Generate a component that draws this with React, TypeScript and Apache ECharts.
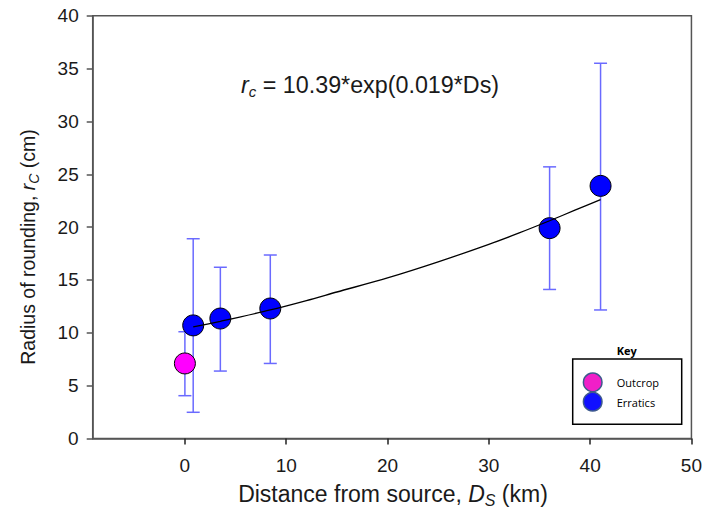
import React, { useEffect, useRef } from "react";
import * as echarts from "echarts";

// Data
const outcropX = [0];
const outcropY = [7.1];
const outcropLow = [4.05];
const outcropHigh = [10.1];

const erraticsX = [0.82, 3.5, 8.43, 36.0, 41.03];
const erraticsY = [10.7, 11.35, 12.3, 19.9, 23.9];
const erraticsLow = [2.48, 6.38, 7.1, 14.1, 12.16];
const erraticsHigh = [18.9, 16.2, 17.36, 25.7, 35.5];

// fitted curve, points
const fitX = [0.82, 3.5, 8.43, 12, 15, 20, 25, 30, 33, 36, 38.5, 41.03];
const fitY = [10.55, 11.09, 12.16, 13.05, 13.86, 15.19, 16.71, 18.37, 19.45, 20.6, 21.6, 22.6];

const xTicks = [0, 10, 20, 30, 40, 50];
const yTicks = [0, 5, 10, 15, 20, 25, 30, 35, 40];

const FONT = "Liberation Sans, Arial, sans-serif";

export default function App() {
  const ref = useRef<HTMLDivElement>(null);
  useEffect(() => {
    if (!ref.current) return;
    const chart = echarts.init(ref.current, null, { renderer: "svg" });

    const errData = [
      ...outcropX.map((x, i) => [x, outcropLow[i], outcropHigh[i]]),
      ...erraticsX.map((x, i) => [x, erraticsLow[i], erraticsHigh[i]]),
    ];

    const axisColor = "#555";

    chart.setOption({
      animation: false,
      backgroundColor: "#fff",
      grid: {
        left: 92.7,
        right: 11.3,
        top: 15.7,
        bottom: 83.5,
        show: true,
        borderColor: axisColor,
        borderWidth: 1.5,
        containLabel: false,
      },
      xAxis: {
        type: "value",
        min: -9.1,
        max: 50,
        splitLine: { show: false },
        axisLine: { show: true, onZero: false, lineStyle: { color: axisColor, width: 1.5 } },
        axisTick: {
          show: true,
          inside: false,
          length: 6,
          customValues: xTicks,
          lineStyle: { color: "#222", width: 1.5 },
        },
        axisLabel: {
          customValues: xTicks,
          margin: 17,
          fontSize: 19,
          color: "#1a1a1a",
          fontFamily: FONT,
        },
      },
      yAxis: {
        type: "value",
        min: 0,
        max: 40,
        interval: 5,
        splitLine: { show: false },
        axisLine: { show: true, onZero: false, lineStyle: { color: axisColor, width: 1.5 } },
        axisTick: { show: true, inside: false, length: 6, lineStyle: { color: axisColor, width: 1.5 } },
        axisLabel: {
          margin: 14,
          fontSize: 19,
          color: "#1a1a1a",
          fontFamily: FONT,
          formatter: (v: number) => (yTicks.includes(v) ? String(v) : ""),
        },
      },
      series: [
        {
          type: "custom",
          name: "errors",
          data: errData,
          z: 1,
          renderItem: (params: any, api: any) => {
            const x = api.value(0);
            const lo = api.coord([x, api.value(1)]);
            const hi = api.coord([x, api.value(2)]);
            const hw = 6.5;
            const style = { stroke: "#6a6aff", lineWidth: 1.5, fill: "none" };
            return {
              type: "group",
              children: [
                { type: "line", shape: { x1: lo[0], y1: lo[1], x2: hi[0], y2: hi[1] }, style },
                { type: "line", shape: { x1: lo[0] - hw, y1: lo[1], x2: lo[0] + hw, y2: lo[1] }, style },
                { type: "line", shape: { x1: hi[0] - hw, y1: hi[1], x2: hi[0] + hw, y2: hi[1] }, style },
              ],
            };
          },
        },
        {
          type: "scatter",
          name: "Outcrop",
          z: 2,
          symbol: "circle",
          symbolSize: 21,
          itemStyle: { color: "#ff00ff", borderColor: "#000", borderWidth: 1, opacity: 1 },
          data: outcropX.map((x, i) => [x, outcropY[i]]),
        },
        {
          type: "scatter",
          name: "Erratics",
          z: 2,
          symbol: "circle",
          symbolSize: 21,
          itemStyle: { color: "#0000ff", borderColor: "#000", borderWidth: 1, opacity: 1 },
          data: erraticsX.map((x, i) => [x, erraticsY[i]]),
        },
        {
          type: "line",
          name: "fit",
          z: 3,
          smooth: 0.3,
          showSymbol: false,
          symbol: "none",
          lineStyle: { color: "#000", width: 1.3 },
          data: fitX.map((x, i) => [x, fitY[i]]),
        },
      ],
      graphic: [
        {
          type: "text",
          left: 241,
          top: 73,
          style: {
            text: "{i|r}{sub|c} = 10.39*exp(0.019*Ds)",
            fontSize: 23.3,
            fontFamily: FONT,
            fill: "#1a1a1a",
            rich: {
              i: { fontStyle: "italic", fontSize: 23.3, fontFamily: FONT, fill: "#1a1a1a" },
              sub: { fontStyle: "italic", fontSize: 15, fontFamily: FONT, fill: "#1a1a1a", padding: [13, 0, 0, 0] },
            },
          },
        },
        {
          type: "text",
          x: 393,
          y: 494,
          style: {
            text: "Distance from source, {i|D}{sub|S} (km)",
            fontSize: 23,
            fontFamily: FONT,
            fill: "#1a1a1a",
            align: "center",
            verticalAlign: "middle",
            rich: {
              i: { fontStyle: "italic", fontSize: 23, fontFamily: FONT, fill: "#1a1a1a" },
              sub: { fontStyle: "italic", fontSize: 16, fontFamily: FONT, fill: "#1a1a1a", padding: [13, 0, 0, 0] },
            },
          },
        },
        {
          type: "text",
          x: 28,
          y: 247,
          rotation: Math.PI / 2,
          style: {
            text: "Radius of rounding, {i|r}{sub|C} (cm)",
            fontSize: 19.5,
            fontFamily: FONT,
            fill: "#1a1a1a",
            align: "center",
            verticalAlign: "middle",
            rich: {
              i: { fontStyle: "italic", fontSize: 19.5, fontFamily: FONT, fill: "#1a1a1a" },
              sub: { fontStyle: "italic", fontSize: 14, fontFamily: FONT, fill: "#1a1a1a", padding: [11, 0, 0, 0] },
            },
          },
        },
        // Key legend
        {
          type: "text",
          x: 626.7,
          y: 350,
          style: {
            text: "Key",
            fontSize: 11,
            fontWeight: "bold",
            fontFamily: "Open Sans, sans-serif",
            fill: "#000",
            align: "center",
            verticalAlign: "middle",
          },
        },
        {
          type: "rect",
          shape: { x: 572.7, y: 359, width: 109, height: 65.3 },
          style: { fill: "#fff", stroke: "#000", lineWidth: 1.5 },
          z: 10,
        },
        {
          type: "circle",
          shape: { cx: 592.7, cy: 382.3, r: 9.3 },
          style: { fill: "#f01fc8", stroke: "#3d5a8c", lineWidth: 1.5 },
          z: 11,
        },
        {
          type: "circle",
          shape: { cx: 592.7, cy: 401.7, r: 9.3 },
          style: { fill: "#1010ff", stroke: "#3d5a8c", lineWidth: 1.5 },
          z: 11,
        },
        {
          type: "text",
          x: 616.7,
          y: 382.5,
          z: 11,
          style: {
            text: "Outcrop",
            fontSize: 11,
            fontFamily: "Open Sans, sans-serif",
            fill: "#000",
            verticalAlign: "middle",
          },
        },
        {
          type: "text",
          x: 616.7,
          y: 402,
          z: 11,
          style: {
            text: "Erratics",
            fontSize: 11,
            fontFamily: "Open Sans, sans-serif",
            fill: "#000",
            verticalAlign: "middle",
          },
        },
      ],
    });
    return () => chart.dispose();
  }, []);

  return <div ref={ref} style={{ width: 705, height: 522, position: "absolute", left: 0, top: 0 }} />;
}
